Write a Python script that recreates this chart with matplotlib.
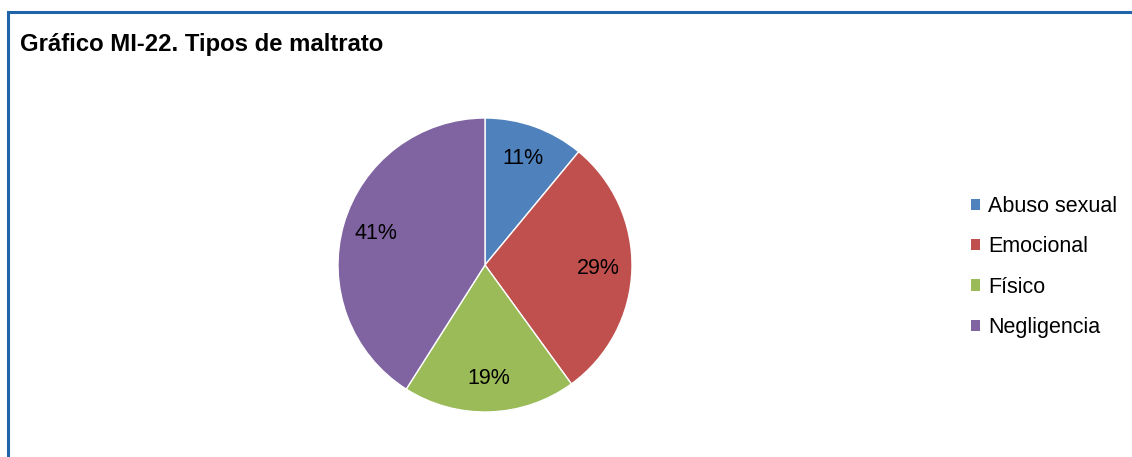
import matplotlib.pyplot as plt
from matplotlib.patches import Rectangle
from matplotlib.lines import Line2D

# data
categories = ['Abuso sexual', 'Emocional', 'Físico', 'Negligencia']
values = [11, 29, 19, 41]
colors = ['#4F81BD', '#C0504D', '#9BBB59', '#8064A2']

W, H = 1132, 457
fig = plt.figure(figsize=(W / 100, H / 100), dpi=100)
plt.rcParams['font.family'] = ['Liberation Sans', 'DejaVu Sans']

# frame around the chart (only top and left visible)
fig.add_artist(Line2D([8 / W, 1.0], [1 - 12 / H, 1 - 12 / H], transform=fig.transFigure,
                      color='#1F64A8', linewidth=2.2))
fig.add_artist(Line2D([8 / W, 8 / W], [1 - 12 / H, 0.0], transform=fig.transFigure,
                      color='#1F64A8', linewidth=2.2))

fig.text(20 / W, 1 - 45 / H, 'Gráfico MI-22. Tipos de maltrato', fontsize=17.2,
         fontweight='bold', ha='left', va='center')

# pie axes: center (485, 265), radius 147 px
cx, cy, r = 485, 265, 147
ax = fig.add_axes([(cx - r) / W, 1 - (cy + r) / H, 2 * r / W, 2 * r / H])
wedges, texts, autotexts = ax.pie(values, colors=colors, startangle=90, counterclock=False,
                                  autopct='%1.0f%%', pctdistance=0.77, radius=1.0,
                                  wedgeprops=dict(edgecolor='white', linewidth=1.0),
                                  textprops=dict(fontsize=15.5, color='black'))
ax.set_xlim(-1, 1)
ax.set_ylim(-1, 1)
ax.set_aspect('equal')

handles = [Rectangle((0, 0), 1, 1, facecolor=c, edgecolor='none') for c in colors]
fig.legend(handles, categories, loc='center left',
           bbox_to_anchor=(952 / W, 1 - 267 / H), frameon=False, fontsize=15.5,
           handlelength=0.42, handleheight=0.42, handletextpad=0.35, labelspacing=0.9)

fig.savefig('out.png', dpi=100)
